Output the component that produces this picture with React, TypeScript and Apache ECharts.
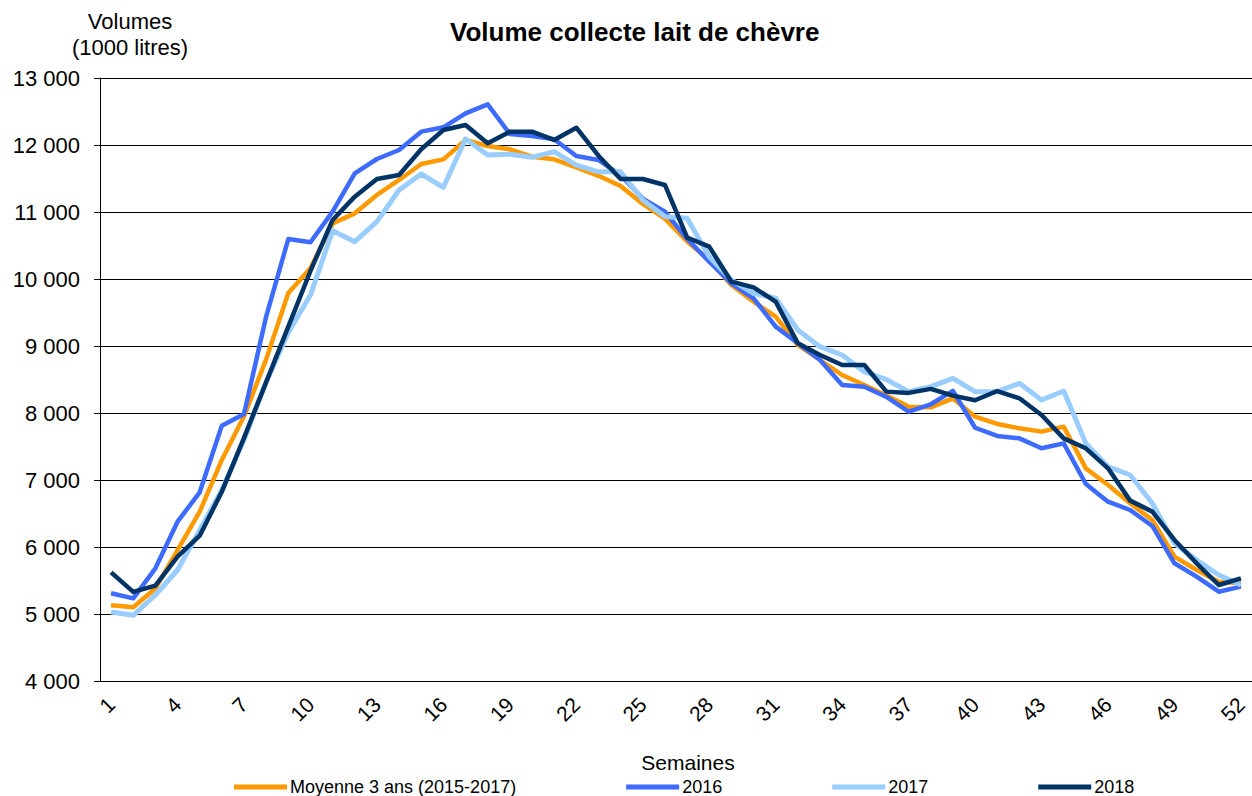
import React, { useEffect, useRef } from "react";
import * as echarts from "echarts";

const weeks: string[] = Array.from({ length: 52 }, (_, i) => String(i + 1));

const seriesNames = ["Moyenne 3 ans (2015-2017)", "2016", "2017", "2018"];

const moyenne = [
  5130, 5100, 5380, 5955, 6528, 7300, 7950, 8800, 9790, 10160,
  10830, 10980, 11254, 11478, 11716, 11786, 12075, 11985, 11936, 11826,
  11786, 11667, 11540, 11388, 11120, 10900, 10560, 10284, 9910, 9662,
  9438, 9015, 8791, 8567, 8418, 8260, 8095, 8085, 8219, 7945,
  7836, 7771, 7722, 7796, 7174, 6925, 6652, 6403, 5856, 5657,
  5483, 5458,
];

const y2016 = [
  5309, 5234, 5682, 6378, 6816, 7811, 7985, 9440, 10597, 10548,
  11005, 11578, 11791, 11925, 12199, 12264, 12473, 12607, 12164, 12134,
  12085, 11836, 11776, 11552, 11200, 11005, 10600, 10259, 9936, 9712,
  9289, 9040, 8791, 8418, 8393, 8240, 8020, 8130, 8330, 7780,
  7657, 7622, 7473, 7547, 6940, 6677, 6552, 6314, 5757, 5558,
  5333, 5408,
];

const y2017 = [
  5030, 4980, 5284, 5657, 6250, 6850, 7600, 8460, 9200, 9760,
  10721, 10557, 10856, 11328, 11567, 11369, 12090, 11851, 11861, 11816,
  11900, 11701, 11600, 11602, 11179, 10931, 10906, 10333, 9985, 9787,
  9712, 9239, 8990, 8866, 8617, 8500, 8319, 8393, 8518, 8319,
  8319, 8443, 8194, 8328, 7547, 7199, 7075, 6652, 6055, 5806,
  5582, 5433,
];

const y2018 = [
  5622, 5330, 5423, 5856, 6169, 6825, 7630, 8460, 9290, 10120,
  10881, 11229, 11493, 11552, 11936, 12224, 12299, 12025, 12199, 12199,
  12075, 12258, 11840, 11493, 11493, 11403, 10620, 10483, 9960, 9876,
  9662, 9040, 8866, 8716, 8716, 8319, 8300, 8360, 8260, 8190,
  8328, 8219, 7970, 7622, 7473, 7174, 6692, 6528, 6105, 5757,
  5433, 5533,
];

const colors = ["#FF9900", "#3D6BFF", "#99CCFF", "#003366"];
const seriesData = [moyenne, y2016, y2017, y2018];

const FONT = "'Liberation Sans', Arial, sans-serif";

const fmt = (v: number) => String(v).replace(/\B(?=(\d{3})+(?!\d))/g, " ");

export default function App() {
  const ref = useRef<HTMLDivElement>(null);
  useEffect(() => {
    document.body.style.margin = "0";
    const chart = echarts.init(ref.current!, null, { renderer: "svg" });
    chart.setOption({
      animation: false,
      backgroundColor: "#ffffff",
      textStyle: { fontFamily: FONT, color: "#000" },
      title: {
        text: "Volume collecte lait de chèvre",
        left: 445,
        top: 14,
        textStyle: { fontFamily: FONT, fontSize: 26, fontWeight: "bold", color: "#000" },
      },
      graphic: [
        {
          type: "text",
          x: 130,
          y: 8,
          style: {
            text: "Volumes\n(1000 litres)",
            font: `22px ${FONT}`,
            fill: "#000",
            align: "center",
            verticalAlign: "top",
            lineHeight: 26,
          },
        },
        {
          type: "text",
          x: 688,
          y: 762,
          style: {
            text: "Semaines",
            font: `21px ${FONT}`,
            fill: "#000",
            align: "center",
            verticalAlign: "middle",
          },
        },
      ],
      legend: {
        left: 229,
        top: 773,
        itemWidth: 53,
        itemHeight: 5,
        itemGap: 110,
        icon: "rect",
        textStyle: {
          fontFamily: FONT,
          fontSize: 18,
          lineHeight: 18,
          color: "#000",
          padding: [0, 0, 0, -2],
        },
        data: seriesNames,
      },
      grid: { left: 100, top: 78, width: 1160, height: 603 },
      xAxis: {
        type: "category",
        data: weeks,
        boundaryGap: true,
        axisLine: { lineStyle: { color: "#000", width: 1 } },
        axisTick: { interval: 0, length: 5, lineStyle: { color: "#000" } },
        axisLabel: {
          interval: 2,
          rotate: 45,
          fontSize: 21,
          fontFamily: FONT,
          color: "#000",
          margin: 20,
        },
        splitLine: { show: false },
      },
      yAxis: {
        type: "value",
        min: 4000,
        max: 13000,
        interval: 1000,
        axisLine: { show: true, lineStyle: { color: "#000", width: 1 } },
        axisTick: { show: true, length: 6, lineStyle: { color: "#000" } },
        axisLabel: {
          fontSize: 22,
          fontFamily: FONT,
          color: "#000",
          margin: 20,
          formatter: (v: number) => fmt(v),
        },
        splitLine: { show: true, lineStyle: { color: "#000", width: 1 } },
      },
      series: seriesNames.map((name, i) => ({
        name,
        type: "line",
        data: seriesData[i],
        showSymbol: false,
        symbol: "none",
        color: colors[i],
        lineStyle: { width: i === 2 ? 5 : 4.5, color: colors[i], join: "round" },
        z: 2 + i,
      })),
    });
    return () => chart.dispose();
  }, []);
  return (
    <div
      ref={ref}
      style={{ position: "absolute", left: 0, top: 0, width: 1252, height: 796 }}
    />
  );
}
